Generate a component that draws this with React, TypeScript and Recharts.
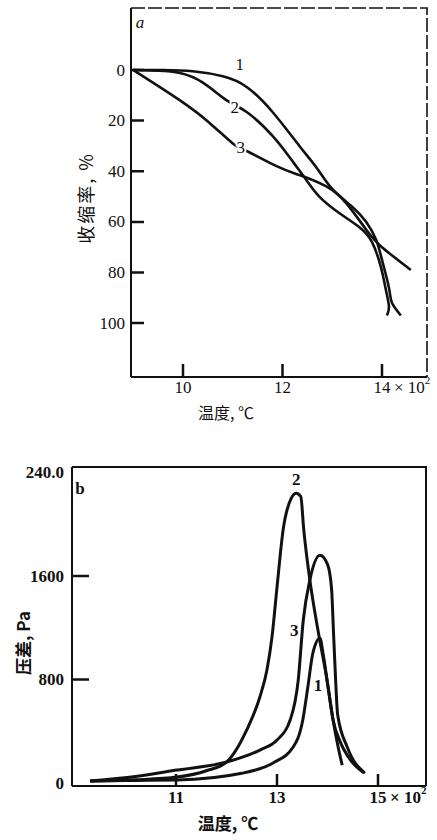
import React from "react";
import { LineChart, Line, XAxis, YAxis } from "recharts";

// panel a: shrinkage (%) vs temperature (x100 C)
const a1Temp = [9.0, 9.6, 10.2, 10.8, 11.28, 11.8, 12.34, 12.7, 13.0, 13.4, 13.68, 13.88, 14.0, 14.14, 14.2, 14.38];
const a1Shrink = [0, 0, 0.5, 2.5, 6.7, 16.6, 30, 39, 47, 54, 60, 67, 75, 86, 92, 97];
const a2Temp = [9.0, 9.5, 9.94, 10.4, 10.88, 11.28, 11.8, 12.2, 12.48, 12.74, 13.14, 13.54, 13.8, 13.98, 14.08, 14.14, 14.1];
const a2Shrink = [0, 0.3, 1.2, 5, 12, 16.6, 26, 36, 43.5, 50, 56.5, 62, 68, 78, 87, 93.5, 97];
const a3Temp = [9.0, 9.94, 10.54, 11.0, 11.28, 11.88, 12.34, 12.88, 13.28, 13.68, 14.0, 14.58];
const a3Shrink = [0, 12, 21, 29, 32, 38, 41.5, 46, 52.6, 63, 70, 79];
const aTempTicks = [10, 12, 14];
const aShrinkTicks = [0, 20, 40, 60, 80, 100];

// panel b: pressure drop (Pa) vs temperature (x100 C)
const b1Temp = [9.3, 10.2, 11.02, 12.3, 12.92, 13.32, 13.51, 13.61, 13.71, 13.85, 13.91, 14.01, 14.11, 14.25, 14.45, 14.72];
const b1Pa = [15, 20, 23, 75, 155, 278, 487, 742, 1005, 1120, 1005, 742, 487, 320, 180, 80];
const b2Temp = [9.3, 10.2, 11.02, 11.6, 12.0, 12.4, 12.66, 12.8, 12.9, 13.0, 13.12, 13.28, 13.38, 13.47, 13.53, 13.65, 13.81, 13.99, 14.11, 14.21, 14.29];
const b2Pa = [15, 25, 46, 95, 162, 410, 665, 873, 1128, 1515, 1955, 2200, 2240, 2215, 1955, 1569, 1182, 796, 487, 278, 139];
const b3Temp = [9.3, 10.2, 11.02, 12.0, 12.66, 13.0, 13.26, 13.42, 13.52, 13.65, 13.85, 14.0, 14.08, 14.12, 14.16, 14.2, 14.39, 14.74];
const b3Pa = [15, 50, 100, 162, 255, 332, 487, 796, 1260, 1569, 1760, 1690, 1500, 1150, 800, 530, 278, 77];
const bTempTicks = [11, 13, 15];
const bPaTicks = [0, 800, 1600, 2400];

const zip = (t: number[], v: number[]) => t.map((x, i) => ({ t: x, v: v[i] }));

// axis domains and plot boxes (page pixels)
const A_X: [number, number] = [8.955, 14.905];
const A_Y: [number, number] = [-24.5, 121.3];
const A_BOX = { left: 131, right: 427, top: 8, bottom: 377 };
const B_X: [number, number] = [8.94, 15.95];
const B_Y: [number, number] = [-23, 2443];
const B_TOP = 420;
const B_BOX = { left: 72, right: 426, top: 467, bottom: 786 };

const lin = (v: number, d: [number, number], r0: number, r1: number) => r0 + ((v - d[0]) / (d[1] - d[0])) * (r1 - r0);

const SERIF = "'Liberation Serif', 'DejaVu Serif', serif";
const CJK = "'Noto Sans CJK SC', sans-serif";
const INK = "#111";

const leftTick = (axisX: number, gap: number, bold: boolean, fmt: (v: number) => string) => (p: any) => (
  <text x={axisX - gap} y={p.y} textAnchor="end" dominantBaseline="central" fontFamily={SERIF} fontSize={17}
    fontWeight={bold ? "bold" : "normal"} fill={INK}>
    {fmt(p.payload.value)}
  </text>
);

const bottomTick = (axisY: number, gap: number, bold: boolean, last: number) => (p: any) => (
  <g>
    <text x={p.x} y={axisY + gap} textAnchor="middle" dominantBaseline="central" fontFamily={SERIF} fontSize={17}
      fontWeight={bold ? "bold" : "normal"} fill={INK}>
      {p.payload.value}
    </text>
    {p.payload.value === last && (
      <text x={p.x + 12} y={axisY + gap} textAnchor="start" dominantBaseline="central" fontFamily={SERIF} fontSize={17}
        fontWeight={bold ? "bold" : "normal"} fill={INK}>
        × 10<tspan dy={-7} fontSize={11}>2</tspan>
      </text>
    )}
  </g>
);

const curveLabel = (idx: number, text: string, dx: number, dy: number, bold: boolean) => (p: any) =>
  p.index === idx ? (
    <text key={text} x={p.x + dx} y={p.y + dy} textAnchor="middle" dominantBaseline="central" fontFamily={SERIF} fontSize={17}
      fontWeight={bold ? "bold" : "normal"} fill={INK} stroke="#fff" strokeWidth={4} paintOrder="stroke">
      {text}
    </text>
  ) : null;

const axisStyle = { stroke: INK, strokeWidth: 2 };

function ChartA() {
  return (
    <LineChart width={437} height={420} margin={{ top: A_BOX.top, right: 437 - A_BOX.right, left: 0, bottom: 420 - A_BOX.bottom - 30 }}>
      <XAxis dataKey="t" type="number" domain={A_X} ticks={aTempTicks} interval={0} allowDataOverflow
        height={30} axisLine={axisStyle} tickLine={false} tick={bottomTick(A_BOX.bottom, 10, false, 14)} />
      <YAxis dataKey="v" type="number" reversed domain={A_Y} ticks={aShrinkTicks} interval={0} allowDataOverflow
        width={A_BOX.left} axisLine={axisStyle} tickLine={false} tick={leftTick(A_BOX.left, 6, false, (v) => String(v))} />
      <Line data={zip(a1Temp, a1Shrink)} dataKey="v" type="natural" stroke={INK} strokeWidth={2.6} dot={false}
        isAnimationActive={false} label={curveLabel(4, "1", -7, -22, false)} />
      <Line data={zip(a2Temp, a2Shrink)} dataKey="v" type="natural" stroke={INK} strokeWidth={2.6} dot={false}
        isAnimationActive={false} label={curveLabel(4, "2", 8, 7, false)} />
      <Line data={zip(a3Temp, a3Shrink)} dataKey="v" type="natural" stroke={INK} strokeWidth={2.6} dot={false}
        isAnimationActive={false} label={curveLabel(3, "3", 8, 4, false)} />
    </LineChart>
  );
}

function ChartB() {
  const fmt = (v: number) => (v === 2400 ? "240.0" : String(v));
  const axisY = B_BOX.bottom - B_TOP;
  return (
    <LineChart width={437} height={420} margin={{ top: B_BOX.top - B_TOP, right: 437 - B_BOX.right, left: 0, bottom: 420 - axisY - 30 }}>
      <XAxis dataKey="t" type="number" domain={B_X} ticks={bTempTicks} interval={0} allowDataOverflow
        height={30} axisLine={axisStyle} tickLine={false} tick={bottomTick(axisY, 11, true, 15)} />
      <YAxis dataKey="v" type="number" domain={B_Y} ticks={bPaTicks} interval={0} allowDataOverflow
        width={B_BOX.left} axisLine={axisStyle} tickLine={false} tick={leftTick(B_BOX.left, 8, true, fmt)} />
      <Line data={zip(b1Temp, b1Pa)} dataKey="v" type="monotone" stroke={INK} strokeWidth={3} dot={false}
        isAnimationActive={false} label={curveLabel(11, "1", -10, -2, true)} />
      <Line data={zip(b2Temp, b2Pa)} dataKey="v" type="monotone" stroke={INK} strokeWidth={3} dot={false}
        isAnimationActive={false} label={curveLabel(12, "2", 0, -14, true)} />
      <Line data={zip(b3Temp, b3Pa)} dataKey="v" type="monotone" stroke={INK} strokeWidth={3} dot={false}
        isAnimationActive={false} label={curveLabel(8, "3", -9, 10, true)} />
    </LineChart>
  );
}

// inward tick marks and the top/right frame edges, all as paths
function Frame() {
  const aTicks =
    aShrinkTicks.map((v) => `M${A_BOX.left} ${lin(v, A_Y, A_BOX.top, A_BOX.bottom).toFixed(1)} h13`).join(" ") + " " +
    aTempTicks.map((v) => `M${lin(v, A_X, A_BOX.left, A_BOX.right).toFixed(1)} ${A_BOX.bottom} v-13`).join(" ");
  const bTicks =
    bPaTicks.filter((v) => v > 0 && v < 2400).map((v) => `M${B_BOX.left} ${lin(v, B_Y, B_BOX.bottom, B_BOX.top).toFixed(1)} h17`).join(" ") + " " +
    bTempTicks.map((v) => `M${lin(v, B_X, B_BOX.left, B_BOX.right).toFixed(1)} ${B_BOX.bottom} v-12`).join(" ");
  return (
    <g>
      <path d={`M${A_BOX.left} ${A_BOX.top} H${A_BOX.right} V${A_BOX.bottom}`} fill="none" stroke={INK} strokeWidth={1.6} strokeDasharray="14 3" />
      <path d={`M${B_BOX.left} ${B_BOX.top} H${B_BOX.right} V${B_BOX.bottom}`} fill="none" stroke={INK} strokeWidth={2} />
      <path d={aTicks} fill="none" stroke={INK} strokeWidth={2.5} />
      <path d={bTicks} fill="none" stroke={INK} strokeWidth={2.5} />
    </g>
  );
}

export default function App() {
  return (
    <div style={{ position: "absolute", left: 0, top: 0, width: 437, height: 840, background: "#fff" }}>
      <div style={{ position: "absolute", left: 0, top: 0 }}>
        <ChartA />
      </div>
      <div style={{ position: "absolute", left: 0, top: B_TOP }}>
        <ChartB />
      </div>
      <svg width={437} height={840} style={{ position: "absolute", left: 0, top: 0, pointerEvents: "none" }}>
        <Frame />
        <text x={140} y={22} textAnchor="middle" dominantBaseline="central" fontFamily={SERIF} fontStyle="italic" fontSize={17} fill={INK}>a</text>
        <text x={85} y={198} textAnchor="middle" dominantBaseline="central" fontFamily={CJK} fontSize={18} letterSpacing={2} fill={INK} transform="rotate(-90 85 198)">收缩率, %</text>
        <text x={226} y={412} textAnchor="middle" dominantBaseline="central" fontFamily={CJK} fontSize={16} fill={INK}>温度, ℃</text>
        <text x={80} y={488} textAnchor="middle" dominantBaseline="central" fontFamily={SERIF} fontWeight="bold" fontSize={17} fill={INK}>b</text>
        <text x={22} y={643} textAnchor="middle" dominantBaseline="central" fontFamily={CJK} fontWeight="bold" fontSize={17} fill={INK} transform="rotate(-90 22 643)">压差, Pa</text>
        <text x={228} y={822} textAnchor="middle" dominantBaseline="central" fontFamily={CJK} fontWeight="bold" fontSize={17} fill={INK}>温度, ℃</text>
      </svg>
    </div>
  );
}
